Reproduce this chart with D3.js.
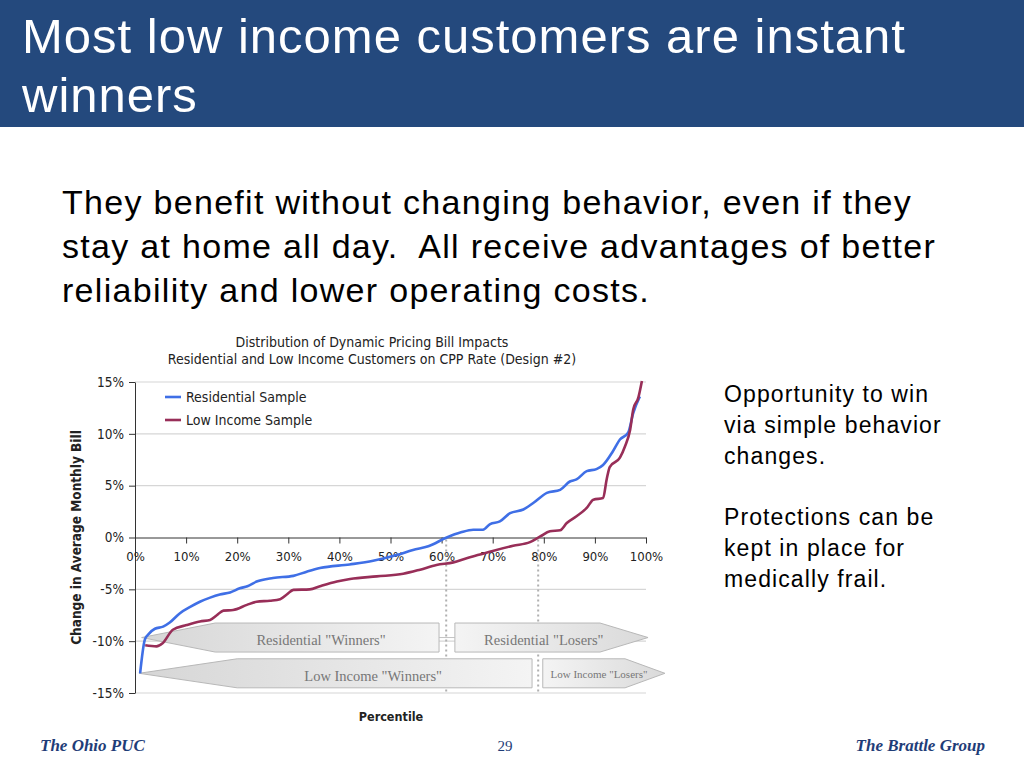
<!DOCTYPE html>
<html lang="en">
<head>
  <meta charset="utf-8" />
  <title>Most low income customers are instant winners</title>
  <script src="https://cdnjs.cloudflare.com/ajax/libs/d3/7.8.5/d3.min.js"></script>
  <style>
    body { margin: 0; background: #fff; }
    svg { display: block; }
    .slide { font-family: 'Liberation Sans', Arial, sans-serif; }
    .chart text { font-family: 'Liberation Sans Narrow', 'DejaVu Sans Condensed', sans-serif; fill: #222; }
    .chart .tick line { stroke: #333; }
    .chart .domain { stroke: #333; }
    .band text { font-family: 'Liberation Serif', 'Times New Roman', serif !important; fill: #777 !important; }
    .footer { font-family: 'Liberation Serif', 'Times New Roman', serif; fill: #1f3d78; }
  </style>
</head>
<body>
<svg id="slide" width="1024" height="768"></svg>
<script>
// ---- data ----
const resPercentile = [1, 1.9, 2.5, 3.9, 5.5, 6.8, 8.8, 10.8, 12.7, 14.7, 16.6, 18.6, 20.5, 22, 23.8, 27, 31, 33.6, 36.2, 42, 46.6, 51.2, 54.4, 57.4, 61, 63.8, 66.2, 68.1, 69.5, 71.4, 73.4, 76, 78, 80.6, 83.2, 85.1, 86.4, 88.4, 90.3, 91.6, 93.5, 94.9, 96.5, 97.5, 98.8];
const resChange = [-13.1, -9.9, -9.4, -8.8, -8.6, -8.2, -7.3, -6.7, -6.2, -5.8, -5.5, -5.3, -4.9, -4.7, -4.25, -3.9, -3.7, -3.3, -2.95, -2.6, -2.25, -1.7, -1.2, -0.85, 0, 0.5, 0.75, 0.75, 1.3, 1.55, 2.35, 2.7, 3.35, 4.3, 4.6, 5.4, 5.6, 6.4, 6.6, 7.0, 8.3, 9.45, 10.1, 12, 13.6];

const lowPercentile = [2, 4.2, 5.4, 7.4, 10.1, 12.7, 14.7, 16, 17.3, 19.2, 21.9, 23.8, 26.4, 28.4, 29.7, 31, 34.2, 36.2, 39.5, 42.1, 47.3, 52.5, 55.8, 59, 62.3, 64.9, 67.5, 70, 74, 77.3, 79.3, 81.2, 83.2, 84.5, 86.4, 88.4, 89.7, 91.6, 92.3, 92.9, 94.9, 95.9, 96.9, 97.5, 98.5, 99.2];
const lowChange = [-10.4, -10.5, -10.2, -8.9, -8.45, -8.1, -7.95, -7.5, -7.05, -7.0, -6.5, -6.2, -6.1, -5.95, -5.5, -5.05, -5.0, -4.7, -4.25, -4.0, -3.75, -3.5, -3.1, -2.65, -2.4, -2.0, -1.65, -1.3, -0.8, -0.45, 0.1, 0.6, 0.7, 1.4, 2.05, 2.85, 3.65, 3.8, 5.6, 6.8, 7.7, 8.8, 10.4, 12.35, 13.5, 15.1];

const seriesNames = ["Residential Sample", "Low Income Sample"];
const xTicks = [0, 10, 20, 30, 40, 50, 60, 70, 80, 90, 100];
const yTicks = [-15, -10, -5, 0, 5, 10, 15];

// break-even percentiles (dotted lines)
const breakEven = [60.9, 78.9];

// winners / losers bands, in percentile and % change units
const bandLabels = ['Residential "Winners"', 'Residential "Losers"', 'Low Income "Winners"', 'Low Income "Losers"'];
const bandStart = [1.3, 62.6, 0.8, 79.8];    // left end (tip for winners)
const bandBody = [15.7, 91, 20, 95.9];       // where the arrow head meets the box
const bandEnd = [59.5, 100.4, 77.7, 103.7];  // right end (tip for losers)
const bandTop = [-8.25, -8.25, -11.7, -11.7];
const bandBottom = [-11.05, -11.05, -14.5, -14.5];
const bandLabelAt = [36.4, 80, 46.6, 90.8];

const svg = d3.select("#slide");

// ------------------- SLIDE FRAME -------------------
const slide = svg.append("g").attr("class", "slide");
slide.append("rect").attr("width", 1024).attr("height", 127).attr("fill", "#24497d");
["Most low income customers are instant", "winners"].forEach((t, i) => {
  slide.append("text").attr("x", 22).attr("y", 53 + i * 59).attr("fill", "#fff")
    .style("font-size", "49px").style("letter-spacing", "1px").text(t);
});

["They benefit without changing behavior, even if they",
 "stay at home all day.  All receive advantages of better",
 "reliability and lower operating costs."].forEach((t, i) => {
  slide.append("text").attr("x", 62).attr("y", 214 + i * 44).attr("fill", "#000")
    .style("font-size", "34px").style("letter-spacing", "1.3px").style("white-space", "pre").text(t);
});

["Opportunity to win", "via simple behavior", "changes.", "",
 "Protections can be", "kept in place for", "medically frail."].forEach((t, i) => {
  if (!t) return;
  slide.append("text").attr("x", 724).attr("y", 402 + i * 31 - (i > 3 ? 1 : 0)).attr("fill", "#000")
    .style("font-size", "23px").style("letter-spacing", "1.1px").text(t);
});

const footer = svg.append("g").attr("class", "footer");
footer.append("text").attr("x", 40).attr("y", 751).style("font-size", "17px")
  .style("font-style", "italic").style("font-weight", "bold").text("The Ohio PUC");
footer.append("text").attr("x", 505).attr("y", 751).attr("text-anchor", "middle").style("font-size", "15px").text("29");
footer.append("text").attr("x", 985).attr("y", 751).attr("text-anchor", "end").style("font-size", "17px")
  .style("font-style", "italic").style("font-weight", "bold").text("The Brattle Group");

// ------------------- CHART -------------------
const chart = svg.append("g").attr("class", "chart");
const x = d3.scaleLinear().domain([0, 100]).range([135, 646]);
const y = d3.scaleLinear().domain([-15, 15]).range([693, 382]);

chart.append("text").attr("x", 372).attr("y", 347).attr("text-anchor", "middle").style("font-size", "14px")
  .text("Distribution of Dynamic Pricing Bill Impacts");
chart.append("text").attr("x", 372).attr("y", 364).attr("text-anchor", "middle").style("font-size", "14px")
  .text("Residential and Low Income Customers on CPP Rate (Design #2)");

// gridlines
chart.append("g").selectAll("line")
  .data(yTicks.filter(d => d !== 0))
  .enter().append("line")
  .attr("x1", x(0)).attr("x2", x(100))
  .attr("y1", d => y(d)).attr("y2", d => y(d))
  .attr("stroke", "#d6d6d6").attr("stroke-width", 1.2);

// y axis
const yAxis = chart.append("g").attr("transform", `translate(${x(0)},0)`)
  .call(d3.axisLeft(y).tickValues(yTicks).tickSize(6).tickSizeOuter(0).tickFormat(d => d + "%"));
yAxis.selectAll("text").style("font-size", "13.5px").attr("x", -11);

// x axis on the zero line
const xAxis = chart.append("g").attr("transform", `translate(0,${y(0)})`)
  .call(d3.axisBottom(x).tickValues(xTicks).tickSize(6).tickSizeOuter(0).tickFormat(d => d + "%"));
xAxis.selectAll("text").style("font-size", "13px").attr("y", 14);

chart.append("text")
  .attr("transform", `translate(81,${y(0)}) rotate(-90)`)
  .attr("text-anchor", "middle").style("font-size", "13.5px").style("font-weight", "bold")
  .text("Change in Average Monthly Bill");
chart.append("text").attr("x", 391).attr("y", 721).attr("text-anchor", "middle")
  .style("font-size", "12.5px").style("font-weight", "bold").text("Percentile");

// dotted break-even lines
chart.append("g").selectAll("line")
  .data(breakEven)
  .enter().append("line")
  .attr("x1", d => x(d)).attr("x2", d => x(d))
  .attr("y1", y(-0.2)).attr("y2", y(-15))
  .attr("stroke", "#b0b0b0").attr("stroke-width", 2).attr("stroke-dasharray", "2,3");

// connector between residential bands
chart.append("line")
  .attr("x1", x(bandEnd[0])).attr("x2", x(bandStart[1]))
  .attr("y1", y((bandTop[0] + bandBottom[0]) / 2)).attr("y2", y((bandTop[0] + bandBottom[0]) / 2))
  .attr("stroke", "#c4c4c4");

// gradients
const defs = svg.append("defs");
const gW = defs.append("linearGradient").attr("id", "gradWin");
gW.append("stop").attr("offset", "0%").attr("stop-color", "#d6d6d6");
gW.append("stop").attr("offset", "100%").attr("stop-color", "#f4f4f4");
const gL = defs.append("linearGradient").attr("id", "gradLose");
gL.append("stop").attr("offset", "0%").attr("stop-color", "#f4f4f4");
gL.append("stop").attr("offset", "100%").attr("stop-color", "#dadada");

// winners / losers arrows
const bands = chart.append("g").attr("class", "band");
bandLabels.forEach((label, i) => {
  const winner = i % 2 === 0;
  const yt = y(bandTop[i]), yb = y(bandBottom[i]), ym = (yt + yb) / 2;
  const x0 = x(bandStart[i]), xm = x(bandBody[i]), x1 = x(bandEnd[i]);
  const pts = winner
    ? [[x0, ym], [xm, yt], [x1, yt], [x1, yb], [xm, yb]]
    : [[x0, yt], [xm, yt], [x1, ym], [xm, yb], [x0, yb]];
  bands.append("path")
    .attr("d", d3.line()(pts) + "Z")
    .attr("fill", winner ? "url(#gradWin)" : "url(#gradLose)")
    .attr("stroke", "#b8b8b8").attr("stroke-width", 1);
  bands.append("text")
    .attr("x", x(bandLabelAt[i])).attr("y", ym + (i === 3 ? 5 : i === 2 ? 8 : 7.5))
    .attr("text-anchor", "middle")
    .style("font-size", i === 3 ? "11px" : "14.5px")
    .text(label);
});

// curves
const colors = ["#3f6fe6", "#982e58"];
const line = d3.line().x(d => x(d[0])).y(d => y(d[1])).curve(d3.curveMonotoneX);
[[resPercentile, resChange], [lowPercentile, lowChange]].forEach(([px, vy], i) => {
  chart.append("path")
    .datum(d3.zip(px, vy))
    .attr("fill", "none")
    .attr("stroke", colors[i])
    .attr("stroke-width", 2.6)
    .attr("stroke-linejoin", "round")
    .attr("d", line);
});

// legend
const legend = chart.append("g").attr("transform", "translate(165,397)");
seriesNames.forEach((name, i) => {
  const row = legend.append("g").attr("transform", `translate(0,${i * 23})`);
  row.append("line").attr("x1", 0).attr("x2", 16).attr("stroke", colors[i]).attr("stroke-width", 2.6);
  row.append("text").attr("x", 21).attr("y", 5).style("font-size", "14px").text(name);
});
</script>
</body>
</html>
